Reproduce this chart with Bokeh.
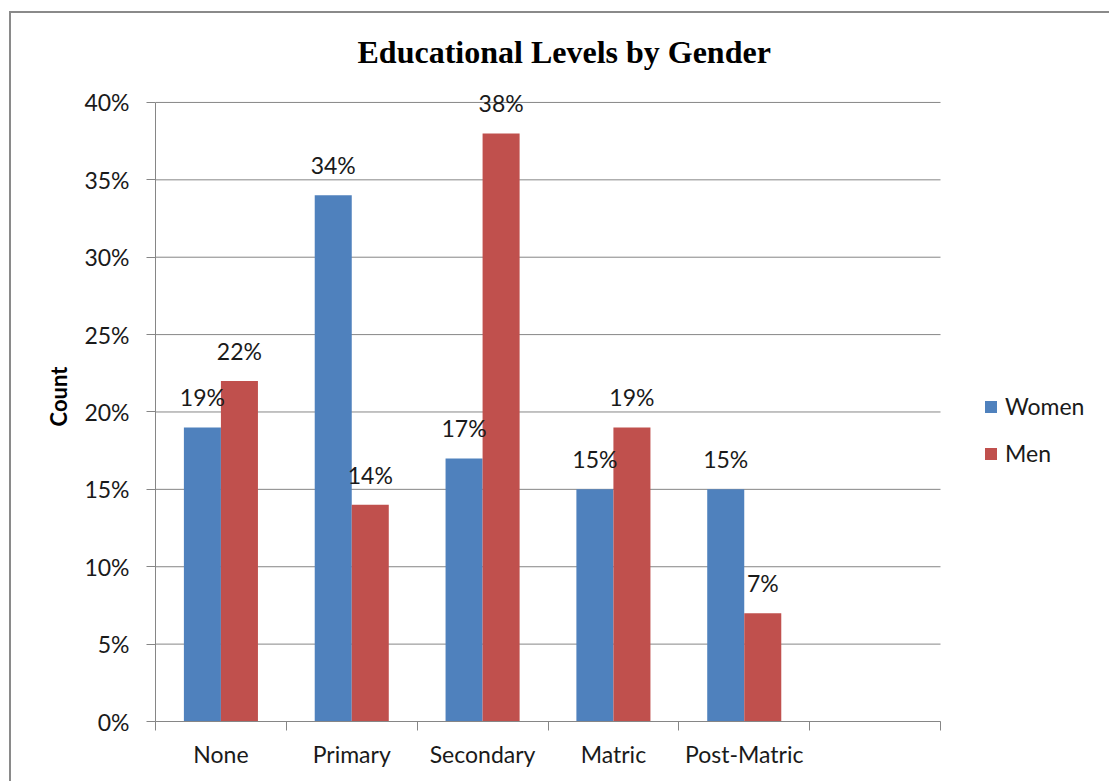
from bokeh.plotting import figure
from bokeh.models import (ColumnDataSource, Range1d, FixedTicker, PrintfTickFormatter,
                          Legend, LegendItem)
from bokeh.transform import dodge
from bokeh.core.properties import value
from bokeh.embed import file_html
from bokeh.resources import INLINE

categories = ["None", "Primary", "Secondary", "Matric", "Post-Matric"]
women = [19, 34, 17, 15, 15]
men = [22, 14, 38, 19, 7]
y_ticks = [0, 5, 10, 15, 20, 25, 30, 35, 40]
n_slots = 6  # five categories plus one empty slot

BLUE = "#4F81BD"
RED = "#C0504D"
GRID = "#868686"
FONT = "Lato"
TXT = "#1a1a1a"

# layout (pixels)
AXIS_W = 785          # width of the category axis
FRAME_W = 956         # frame runs on to the right edge so the legend fits inside it
x_end = n_slots * FRAME_W / AXIS_W

xs = [i + 0.5 for i in range(len(categories))]
src = ColumnDataSource(dict(
    x=xs, women=women, men=men,
    wlab=[f"{v}%" for v in women], mlab=[f"{v}%" for v in men],
))

p = figure(width=1100, height=770, output_backend="svg", toolbar_location=None,
           x_range=Range1d(0, x_end), y_range=Range1d(0, 42),
           min_border_left=144, min_border_right=0, min_border_top=58,
           min_border_bottom=62)
p.styles = {"margin-left": "9px", "margin-top": "11px",
            "border-left": "2px solid #8a8a8a", "border-top": "2px solid #8a8a8a"}
p.outline_line_color = None
p.background_fill_color = "white"
p.border_fill_color = "white"

# horizontal gridlines, limited to the category axis
p.segment(x0=0, x1=n_slots, y0=y_ticks, y1=y_ticks, line_color=GRID, line_width=1)

bw = 0.283
off = bw / 2
rw = p.vbar(x=dodge("x", -off, range=p.x_range), top="women", width=bw, source=src,
            fill_color=BLUE, line_color=None)
rm = p.vbar(x=dodge("x", off, range=p.x_range), top="men", width=bw, source=src,
            fill_color=RED, line_color=None)

for col, lab in (("women", "wlab"), ("men", "mlab")):
    d = -off if col == "women" else off
    p.text(x=dodge("x", d, range=p.x_range), y=col, text=lab, source=src,
           text_align="center", text_baseline="alphabetic", y_offset=-30,
           text_font=value(FONT), text_font_size="23px", text_color=TXT)

# y axis
ya = p.yaxis[0]
ya.ticker = FixedTicker(ticks=y_ticks)
ya.formatter = PrintfTickFormatter(format="%d%%")
ya.bounds = (0, 40)
ya.axis_line_color = GRID
ya.major_tick_line_color = GRID
ya.major_tick_out = 9
ya.major_tick_in = 0
ya.minor_tick_line_color = None
ya.major_label_standoff = 17
ya.major_label_text_font = FONT
ya.major_label_text_font_size = "23px"
ya.major_label_text_color = TXT
ya.axis_label = "Count"
ya.axis_label_text_font = FONT
ya.axis_label_text_font_size = "22px"
ya.axis_label_text_font_style = "bold"
ya.axis_label_text_color = "#000000"
ya.axis_label_standoff = 9

# x axis: labels at category centres, tick marks between categories
xa = p.xaxis[0]
xa.ticker = FixedTicker(ticks=xs, minor_ticks=list(range(n_slots + 1)))
xa.major_label_overrides = {x: c for x, c in zip(xs, categories)}
xa.bounds = (0, n_slots)
xa.axis_line_color = GRID
xa.major_tick_line_color = None
xa.minor_tick_line_color = GRID
xa.minor_tick_out = 9
xa.minor_tick_in = 0
xa.major_label_standoff = 9
xa.major_label_text_font = FONT
xa.major_label_text_font_size = "23px"
xa.major_label_text_color = TXT

p.xgrid.grid_line_color = None
p.ygrid.grid_line_color = None

# title
p.title.text = "Educational Levels by Gender"
p.title.text_font = "Liberation Serif"
p.title.text_font_size = "32px"
p.title.text_font_style = "bold"
p.title.text_color = "#000000"
p.title.align = "left"
p.title.offset = 202
p.title.standoff = 4

# legend
legend = Legend(items=[LegendItem(label="Women", renderers=[rw]),
                       LegendItem(label="Men", renderers=[rm])],
                location=(828, 254), orientation="vertical",
                glyph_width=15, glyph_height=15, label_standoff=7,
                label_text_font=FONT, label_text_font_size="23px",
                label_text_color=TXT, label_height=20, spacing=19,
                padding=0, margin=0, border_line_color=None,
                background_fill_alpha=0)
p.add_layout(legend, "center")

open("out.html", "w").write(file_html(p, INLINE))
